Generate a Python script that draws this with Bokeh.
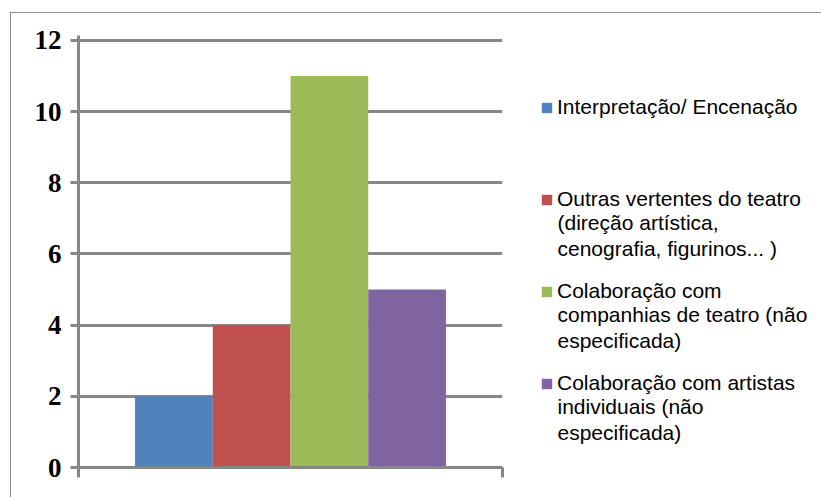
from bokeh.plotting import figure
from bokeh.layouts import row
from bokeh.models import Range1d, FixedTicker, Legend, LegendItem, Label
from bokeh.embed import file_html
from bokeh.resources import INLINE

# Data: series names (one entry per legend line), values, colours
series_lines = [
    ["Interpretação/ Encenação"],
    ["Outras vertentes do teatro", "(direção artística,", "cenografia, figurinos... )"],
    ["Colaboração com", "companhias de teatro (não", "especificada)"],
    ["Colaboração com artistas", "individuais (não", "especificada)"],
]
counts = [2, 4, 11, 5]
colors = ["#4F81BD", "#C0504D", "#9BBB59", "#8064A2"]
y_ticks = [0, 2, 4, 6, 8, 10, 12]

GRAY = "#878787"
BAR_W = 0.1833
H = 484
B_TOP, B_BOTTOM = 22, 30   # shared top/bottom borders of both panels

# ---- bar chart ----
p = figure(
    width=501, height=H,
    x_range=Range1d(0, 1), y_range=Range1d(0, 12.14),
    output_backend="svg", toolbar_location=None,
    min_border_left=67, min_border_right=10,
    min_border_top=B_TOP, min_border_bottom=B_BOTTOM,
)
p.outline_line_color = None

for i, (val, col) in enumerate(zip(counts, colors)):
    p.vbar(x=[0.5 + (i - 1.5) * BAR_W], top=[val], width=BAR_W,
           fill_color=col, line_color=None)

p.yaxis.ticker = FixedTicker(ticks=y_ticks)
p.yaxis.axis_line_color = GRAY
p.yaxis.axis_line_width = 3
p.yaxis.major_tick_line_color = GRAY
p.yaxis.major_tick_line_width = 3
p.yaxis.major_tick_out = 8
p.yaxis.major_tick_in = 0
p.yaxis.minor_tick_line_color = None
p.yaxis.major_label_text_font = "Liberation Serif"
p.yaxis.major_label_text_font_style = "bold"
p.yaxis.major_label_text_font_size = "27px"
p.yaxis.major_label_text_color = "black"
p.yaxis.major_label_standoff = 9

# x axis: only the boundary ticks of the single category, no labels
p.xaxis.ticker = FixedTicker(ticks=[0, 1])
p.xaxis.major_label_overrides = {0: "", 1: ""}
p.xaxis.axis_line_color = GRAY
p.xaxis.axis_line_width = 3
p.xaxis.major_tick_line_color = GRAY
p.xaxis.major_tick_line_width = 3
p.xaxis.major_tick_out = 10
p.xaxis.major_tick_in = 0
p.xaxis.minor_tick_line_color = None

p.xgrid.visible = False
p.ygrid.ticker = FixedTicker(ticks=y_ticks)
p.ygrid.grid_line_color = GRAY
p.ygrid.grid_line_width = 3

# ---- legend panel (data units = pixels from the panel's top-left) ----
LEG_W = 309
lp = figure(
    width=LEG_W, height=H,
    x_range=Range1d(0, LEG_W), y_range=Range1d(H - B_BOTTOM, B_TOP),
    x_axis_type=None, y_axis_type=None,
    output_backend="svg", toolbar_location=None,
    min_border_left=0, min_border_right=0,
    min_border_top=B_TOP, min_border_bottom=B_BOTTOM,
)
lp.outline_line_color = None
lp.grid.visible = False

FONT = "Liberation Sans"
FSIZE = "21px"
TOP = 82          # top of the first legend row
LEFT = 28         # left edge of the legend glyphs
ROW_H = 24
PITCH = 92
LINE = 23.3
GLYPH = 13
STANDOFF = 4
TEXT_X = LEFT + GLYPH + STANDOFF

items = []
for i, (lines, val, col) in enumerate(zip(series_lines, counts, colors)):
    r = lp.vbar(x=[i], top=[val], width=1, fill_color=col, line_color=None,
                visible=False)
    items.append(LegendItem(label=lines[0], renderers=[r]))

n = len(items)
leg_h = n * ROW_H + (n - 1) * (PITCH - ROW_H)
frame_bottom = H - B_BOTTOM
legend = Legend(
    items=items, location=(LEFT, frame_bottom - TOP - leg_h),
    border_line_color=None, background_fill_alpha=0,
    padding=0, margin=0, spacing=PITCH - ROW_H,
    glyph_width=GLYPH, glyph_height=GLYPH, label_height=ROW_H,
    label_standoff=STANDOFF, label_width=10,
    label_text_font=FONT, label_text_font_size=FSIZE,
    label_text_color="black",
)
lp.add_layout(legend)

# wrapped continuation lines of the longer legend entries
for i, lines in enumerate(series_lines):
    if len(lines) > 1:
        lp.add_layout(Label(
            x=TEXT_X, y=TOP + i * PITCH + ROW_H / 2 + LINE / 2,
            text="\n".join(lines[1:]),
            text_font=FONT, text_font_size=FSIZE, text_color="black",
            text_baseline="top", text_align="left", text_line_height=LINE / 21,
        ))

layout = row(p, lp)
layout.margin = (12, 0, 0, 10)
layout.styles = {"border-top": "1px solid #8c8c8c", "border-left": "1px solid #8c8c8c"}

open("out.html", "w").write(file_html(layout, INLINE))
